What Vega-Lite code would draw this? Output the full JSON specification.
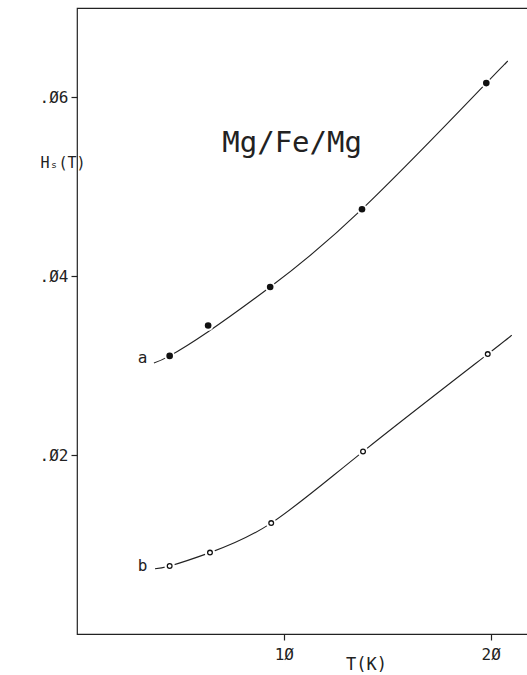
{
  "$schema": "https://vega.github.io/schema/vega-lite/v6.json",
  "width": 455,
  "height": 626,
  "autosize": "none",
  "padding": {"left": 77, "top": 8, "right": 0, "bottom": 41},
  "background": "white",
  "config": {
    "view": {"stroke": "#222", "strokeWidth": 1.2},
    "font": "DejaVu Sans Mono",
    "axis": {
      "ticks": true, "tickColor": "#222", "tickSize": 6, "tickWidth": 1.2, "tickOpacity": 1,
      "domain": false, "grid": false,
      "labelFont": "DejaVu Sans Mono", "labelFontSize": 16, "labelColor": "#222",
      "titleFont": "DejaVu Sans Mono", "titleFontWeight": "normal", "titleColor": "#222"
    }
  },
  "datasets": {
    "curves": [
      {"series": "a", "T": 3.72, "H": 0.0303},
      {"series": "a", "T": 4.48, "H": 0.0311},
      {"series": "a", "T": 6.34, "H": 0.0338},
      {"series": "a", "T": 9.34, "H": 0.0388},
      {"series": "a", "T": 13.78, "H": 0.0475},
      {"series": "a", "T": 19.79, "H": 0.0616},
      {"series": "a", "T": 20.68, "H": 0.0637},
      {"series": "b", "T": 3.77, "H": 0.0073},
      {"series": "b", "T": 4.48, "H": 0.0076},
      {"series": "b", "T": 6.43, "H": 0.0091},
      {"series": "b", "T": 9.39, "H": 0.0124},
      {"series": "b", "T": 13.83, "H": 0.0204},
      {"series": "b", "T": 19.86, "H": 0.0313},
      {"series": "b", "T": 20.95, "H": 0.0333}
    ],
    "points": [
      {"series": "a", "T": 4.48, "H": 0.0311},
      {"series": "a", "T": 6.34, "H": 0.0345},
      {"series": "a", "T": 9.34, "H": 0.0388},
      {"series": "a", "T": 13.78, "H": 0.0475},
      {"series": "a", "T": 19.79, "H": 0.0616},
      {"series": "b", "T": 4.48, "H": 0.0076},
      {"series": "b", "T": 6.43, "H": 0.0091},
      {"series": "b", "T": 9.39, "H": 0.0124},
      {"series": "b", "T": 13.83, "H": 0.0204},
      {"series": "b", "T": 19.86, "H": 0.0313}
    ],
    "labels": [
      {"T": 3.4, "H": 0.0309, "label": "a"},
      {"T": 3.4, "H": 0.0076, "label": "b"}
    ],
    "title": [
      {"T": 10.4, "H": 0.0549, "label": "Mg/Fe/Mg"}
    ]
  },
  "layer": [
    {
      "data": {"name": "curves"},
      "mark": {"type": "line", "interpolate": "natural", "stroke": "#222", "strokeWidth": 1.1},
      "encoding": {
        "x": {
          "field": "T", "type": "quantitative",
          "scale": {"domain": [0, 22], "nice": false, "zero": false},
          "axis": {
            "title": "T(K)", "values": [10, 20],
            "labelPadding": 6,
            "labelExpr": "replace(format(datum.value, 'd'), '0', 'Ø')",
            "titleFontSize": 17,
            "titleX": 289, "titleY": 30, "titleBaseline": "middle", "titleAlign": "center"
          }
        },
        "y": {
          "field": "H", "type": "quantitative",
          "scale": {"domain": [0, 0.07], "nice": false, "zero": false},
          "axis": {
            "title": "Hₛ(T)", "values": [0.02, 0.04, 0.06],
            "labelPadding": 3,
            "labelExpr": "replace(replace(format(datum.value, '.2f'), '0.', '.'), '0', 'Ø')",
            "titleFontSize": 15, "titleAngle": 0, "titleAlign": "left", "titleBaseline": "middle",
            "titleX": -37, "titleY": 154
          }
        },
        "detail": {"field": "series", "type": "nominal"}
      }
    },
    {
      "data": {"name": "points"},
      "mark": {"type": "circle", "fill": "white", "opacity": 1, "size": 110},
      "encoding": {
        "x": {"field": "T", "type": "quantitative"},
        "y": {"field": "H", "type": "quantitative"}
      }
    },
    {
      "data": {"name": "points"},
      "transform": [{"filter": "datum.series == 'a'"}],
      "mark": {"type": "circle", "fill": "#111", "opacity": 1, "size": 44},
      "encoding": {
        "x": {"field": "T", "type": "quantitative"},
        "y": {"field": "H", "type": "quantitative"}
      }
    },
    {
      "data": {"name": "points"},
      "transform": [{"filter": "datum.series == 'b'"}],
      "mark": {"type": "point", "shape": "circle", "fill": "white", "filled": false, "stroke": "#111", "strokeWidth": 1.3, "opacity": 1, "size": 22},
      "encoding": {
        "x": {"field": "T", "type": "quantitative"},
        "y": {"field": "H", "type": "quantitative"}
      }
    },
    {
      "data": {"name": "labels"},
      "mark": {"type": "text", "align": "right", "baseline": "middle", "fontSize": 16, "font": "DejaVu Sans Mono", "color": "#222"},
      "encoding": {
        "x": {"field": "T", "type": "quantitative"},
        "y": {"field": "H", "type": "quantitative"},
        "text": {"field": "label"}
      }
    },
    {
      "data": {"name": "title"},
      "mark": {"type": "text", "align": "center", "baseline": "middle", "fontSize": 29, "font": "DejaVu Sans Mono", "color": "#222"},
      "encoding": {
        "x": {"field": "T", "type": "quantitative"},
        "y": {"field": "H", "type": "quantitative"},
        "text": {"field": "label"}
      }
    }
  ]
}
